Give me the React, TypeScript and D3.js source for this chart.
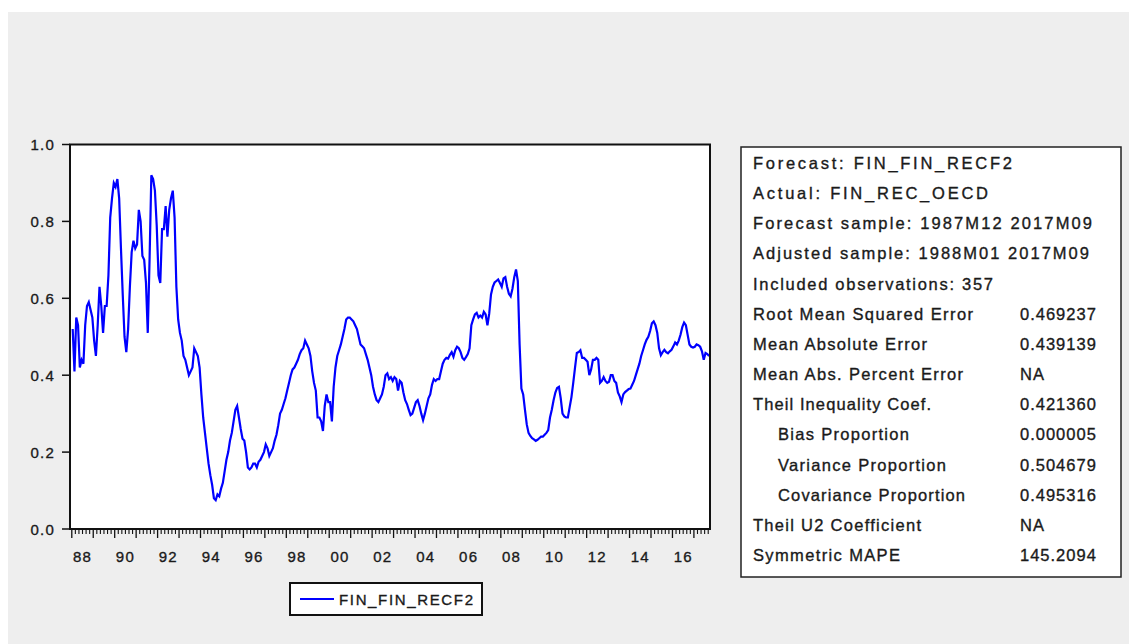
import React from "react";
import * as d3 from "d3";

// ---- data ----
const startYear = 1988; // first observation 1988M01, monthly
const y1988 = [0.52, 0.41, 0.55, 0.53, 0.42, 0.44, 0.43, 0.53, 0.58, 0.59, 0.57, 0.55];
const y1989 = [0.49, 0.45, 0.53, 0.63, 0.58, 0.51, 0.58, 0.58, 0.66, 0.81, 0.86, 0.9];
const y1990 = [0.89, 0.91, 0.86, 0.73, 0.61, 0.5, 0.46, 0.52, 0.63, 0.72, 0.75, 0.73];
const y1991 = [0.74, 0.83, 0.8, 0.71, 0.7, 0.64, 0.51, 0.7, 0.92, 0.91, 0.88, 0.79];
const y1992 = [0.66, 0.64, 0.78, 0.78, 0.84, 0.76, 0.83, 0.86, 0.88, 0.81, 0.63, 0.545];
const y1993 = [0.51, 0.49, 0.45, 0.44, 0.42, 0.4, 0.41, 0.42, 0.47, 0.46, 0.45, 0.42];
const y1994 = [0.35, 0.29, 0.25, 0.21, 0.17, 0.14, 0.115, 0.08, 0.075, 0.09, 0.085, 0.105];
const y1995 = [0.12, 0.15, 0.18, 0.2, 0.23, 0.25, 0.28, 0.31, 0.32, 0.29, 0.26, 0.235];
const y1996 = [0.23, 0.2, 0.16, 0.155, 0.16, 0.17, 0.17, 0.16, 0.175, 0.18, 0.19, 0.2];
const y1997 = [0.22, 0.21, 0.19, 0.2, 0.21, 0.23, 0.245, 0.27, 0.3, 0.31, 0.325, 0.34];
const y1998 = [0.36, 0.38, 0.4, 0.415, 0.42, 0.43, 0.44, 0.455, 0.465, 0.47, 0.49, 0.48];
const y1999 = [0.47, 0.45, 0.41, 0.38, 0.36, 0.29, 0.29, 0.28, 0.255, 0.32, 0.35, 0.33];
const y2000 = [0.33, 0.28, 0.37, 0.42, 0.45, 0.465, 0.48, 0.5, 0.52, 0.545, 0.55, 0.55];
const y2001 = [0.545, 0.54, 0.53, 0.52, 0.5, 0.48, 0.475, 0.47, 0.455, 0.44, 0.42, 0.4];
const y2002 = [0.37, 0.35, 0.335, 0.33, 0.34, 0.35, 0.37, 0.4, 0.405, 0.39, 0.395, 0.385];
const y2003 = [0.395, 0.39, 0.36, 0.385, 0.38, 0.355, 0.335, 0.325, 0.31, 0.296, 0.3, 0.315];
const y2004 = [0.33, 0.335, 0.32, 0.3, 0.283, 0.3, 0.32, 0.34, 0.35, 0.375, 0.39, 0.385];
const y2005 = [0.39, 0.39, 0.41, 0.43, 0.44, 0.445, 0.443, 0.453, 0.46, 0.448, 0.465, 0.474];
const y2006 = [0.47, 0.46, 0.445, 0.44, 0.447, 0.455, 0.47, 0.53, 0.545, 0.558, 0.562, 0.55];
const y2007 = [0.555, 0.55, 0.565, 0.558, 0.53, 0.56, 0.61, 0.63, 0.641, 0.645, 0.649, 0.64];
const y2008 = [0.63, 0.652, 0.655, 0.63, 0.612, 0.605, 0.625, 0.655, 0.675, 0.645, 0.48, 0.365];
const y2009 = [0.35, 0.31, 0.272, 0.25, 0.242, 0.236, 0.233, 0.229, 0.232, 0.236, 0.24, 0.24];
const y2010 = [0.245, 0.25, 0.257, 0.29, 0.31, 0.335, 0.355, 0.367, 0.37, 0.34, 0.3, 0.293];
const y2011 = [0.29, 0.29, 0.317, 0.343, 0.38, 0.42, 0.458, 0.46, 0.465, 0.445, 0.445, 0.44];
const y2012 = [0.435, 0.4, 0.415, 0.44, 0.44, 0.445, 0.44, 0.38, 0.385, 0.395, 0.385, 0.38];
const y2013 = [0.383, 0.4, 0.4, 0.385, 0.38, 0.355, 0.345, 0.33, 0.35, 0.356, 0.36, 0.364];
const y2014 = [0.365, 0.375, 0.385, 0.4, 0.415, 0.43, 0.45, 0.465, 0.48, 0.492, 0.5, 0.515];
const y2015 = [0.535, 0.54, 0.53, 0.51, 0.47, 0.452, 0.46, 0.466, 0.46, 0.457, 0.462, 0.466];
const y2016 = [0.475, 0.485, 0.48, 0.49, 0.505, 0.525, 0.537, 0.53, 0.505, 0.48, 0.474, 0.472];
const y2017 = [0.474, 0.48, 0.478, 0.474, 0.462, 0.44, 0.458, 0.455, 0.45];

const series: number[] = [
  ...y1988, ...y1989, ...y1990, ...y1991, ...y1992, ...y1993, ...y1994, ...y1995,
  ...y1996, ...y1997, ...y1998, ...y1999, ...y2000, ...y2001, ...y2002, ...y2003,
  ...y2004, ...y2005, ...y2006, ...y2007, ...y2008, ...y2009, ...y2010, ...y2011,
  ...y2012, ...y2013, ...y2014, ...y2015, ...y2016, ...y2017,
];

const yTicks = [0, 0.2, 0.4, 0.6, 0.8, 1.0];
const labelYears = [1988, 1990, 1992, 1994, 1996, 1998, 2000, 2002, 2004, 2006, 2008, 2010, 2012, 2014, 2016];
const seriesName = "FIN_FIN_RECF2";

const statLabels = [
  "Forecast: FIN_FIN_RECF2",
  "Actual: FIN_REC_OECD",
  "Forecast sample: 1987M12 2017M09",
  "Adjusted sample: 1988M01 2017M09",
  "Included observations: 357",
  "Root Mean Squared Error",
  "Mean Absolute Error",
  "Mean Abs. Percent Error",
  "Theil Inequality Coef.",
  "Bias Proportion",
  "Variance Proportion",
  "Covariance Proportion",
  "Theil U2 Coefficient",
  "Symmetric MAPE",
];
const statValues = ["", "", "", "", "", "0.469237", "0.439139", "NA", "0.421360", "0.000005", "0.504679", "0.495316", "NA", "145.2094"];
const statIndented = [false, false, false, false, false, false, false, false, false, true, true, true, false, false];

// ---- layout ----
const W = 1129;
const H = 644;
const plot = { left: 70, right: 710, top: 144.5, bottom: 529 };
const statWidths = [259, 235, 339, 336, 240, 220, 174, 210, 178, 131, 168, 187, 168, 147];
const font = "'Liberation Sans', Arial, sans-serif";
const ink = "#1a1a1a";

export default function App() {
  // month index k: 0 = 1988M01; axis covers 1987M12 .. 2017M09 (boundaries)
  const x = d3.scaleLinear().domain([-1, 357]).range([plot.left, plot.right]);
  const y = d3.scaleLinear().domain([0, 1]).range([plot.bottom, plot.top]);

  const line = d3
    .line<number>()
    .x((_, i) => x(i + 0.5))
    .y((d) => y(d));

  const nYears = Math.ceil(series.length / 12);
  const yearStarts = d3.range(0, nYears).map((i) => i * 12);
  const minorTicks = d3.range(-1, 357).filter((k) => k % 12 !== 0 && ((k % 12) + 12) % 2 === 0);

  const boxX = 741, boxY = 147, boxW = 380, boxH = 430;
  const rowY0 = 163, rowStep = 30.15;
  const heavy = { stroke: ink, strokeWidth: 0.35 };

  return (
    <svg
      width={W}
      height={H}
      style={{ position: "absolute", left: 0, top: 0, display: "block" }}
      fontFamily={font}
    >
      <rect x={0} y={0} width={W} height={H} fill="#ffffff" />
      <rect x={8} y={12} width={W - 8} height={H - 12} fill="#eeeeee" />

      {/* plot area */}
      <rect
        x={plot.left}
        y={plot.top}
        width={plot.right - plot.left}
        height={plot.bottom - plot.top}
        fill="#ffffff"
      />
      <path d={line(series) || ""} fill="none" stroke="#0000ff" strokeWidth={2.2} strokeLinejoin="miter" />
      <rect
        x={plot.left}
        y={plot.top}
        width={plot.right - plot.left}
        height={plot.bottom - plot.top}
        fill="none"
        stroke="#111"
        strokeWidth={2}
      />

      {/* y axis */}
      {yTicks.map((t) => (
        <g key={t}>
          <line x1={plot.left - 8} x2={plot.left} y1={y(t)} y2={y(t)} stroke="#111" strokeWidth={1.5} />
          <text
            x={55}
            y={y(t)}
            dominantBaseline="central"
            textAnchor="end"
            fontSize={15}
            letterSpacing={1.2}
            fill={ink}
            {...heavy}
          >
            {t.toFixed(1)}
          </text>
        </g>
      ))}

      {/* x axis ticks */}
      {yearStarts.map((k) => (
        <line key={"L" + k} x1={x(k)} x2={x(k)} y1={plot.bottom} y2={plot.bottom + 9} stroke="#111" strokeWidth={1.3} />
      ))}
      {minorTicks.map((k) => (
        <line key={"m" + k} x1={x(k)} x2={x(k)} y1={plot.bottom} y2={plot.bottom + 5} stroke="#111" strokeWidth={1.1} />
      ))}
      {labelYears.map((yr) => {
        const k = (yr - startYear) * 12 + 6;
        return (
          <text
            key={yr}
            x={x(k)}
            y={556}
            dominantBaseline="central"
            textAnchor="middle"
            fontSize={15}
            letterSpacing={1.2}
            fill={ink}
            {...heavy}
          >
            {String(yr).slice(2)}
          </text>
        );
      })}

      {/* legend */}
      <rect x={290} y={583} width={192} height={32} fill="#ffffff" stroke="#111" strokeWidth={2} />
      <line x1={300} x2={334} y1={599} y2={599} stroke="#0000ff" strokeWidth={2} />
      <text x={339} y={599.5} dominantBaseline="central" fontSize={15} textLength={134} lengthAdjust="spacing" fill={ink} {...heavy}>
        {seriesName}
      </text>

      {/* statistics box */}
      <rect x={boxX} y={boxY} width={boxW} height={boxH} fill="#ffffff" stroke="#222" strokeWidth={1.5} />
      {statLabels.map((lab, i) => (
        <g key={lab}>
          <text
            x={statIndented[i] ? 778 : 753}
            y={rowY0 + i * rowStep}
            dominantBaseline="central"
            fontSize={16.5}
            textLength={statWidths[i]}
            lengthAdjust="spacing"
            fill={ink}
            {...heavy}
          >
            {lab}
          </text>
          {statValues[i] ? (
            <text
              x={1020}
              y={rowY0 + i * rowStep}
              dominantBaseline="central"
              fontSize={16.5}
              letterSpacing={1}
              fill={ink}
              {...heavy}
            >
              {statValues[i]}
            </text>
          ) : null}
        </g>
      ))}
    </svg>
  );
}
